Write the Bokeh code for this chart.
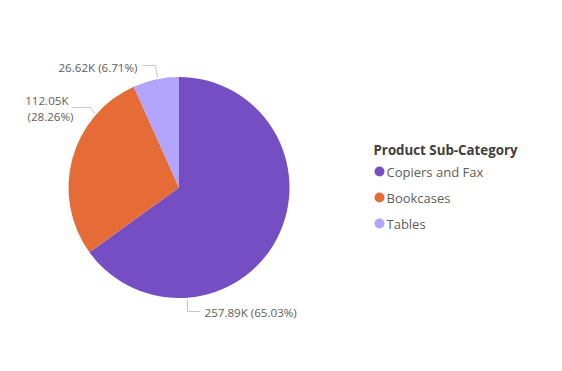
import numpy as np
from bokeh.plotting import figure
from bokeh.models import Range1d
from bokeh.core.properties import value
from bokeh.embed import file_html
from bokeh.resources import INLINE

categories = ["Copiers and Fax", "Bookcases", "Tables"]
values = [257.89, 112.05, 26.62]
value_labels = ["257.89K", "112.05K", "26.62K"]
colors = ["#744EC2", "#E66C37", "#B3A4FE"]
legend_title = "Product Sub-Category"

W, H = 546, 355
FONT = "Open Sans"
LABEL_COLOR = "#605E5C"
LINE_COLOR = "#C8C6C4"
LABEL_SIZE = "11.6px"

def Y(py):
    return H - py

def X(px):
    return px

p = figure(width=W, height=H, output_backend="svg", toolbar_location=None,
           x_range=Range1d(0, W), y_range=Range1d(0, H), min_border=0,
           outline_line_color=None)
p.axis.visible = False
p.grid.visible = False
p.background_fill_color = "white"
p.border_fill_color = "white"

vals = np.array(values, dtype=float)
frac = vals / vals.sum()
cum = np.concatenate([[0], np.cumsum(frac)])
start = np.pi / 2 - cum[1:] * 2 * np.pi
end = np.pi / 2 - cum[:-1] * 2 * np.pi

cx, cy, r = X(178.5), Y(187), 110.5
p.wedge(x=[cx] * 3, y=[cy] * 3, radius=r, radius_units="screen",
        start_angle=start, end_angle=end, direction="anticlock",
        fill_color=colors, line_color=None)

pct = [f"({f*100:.2f}%)" for f in frac]

# Copiers and Fax label
p.line([X(187), X(187), X(200)], [Y(299), Y(311), Y(311)], line_color=LINE_COLOR, line_width=1)
p.text([X(204)], [Y(312)], text=[f"{value_labels[0]} {pct[0]}"], text_font=value(FONT),
       text_font_size=LABEL_SIZE, text_color=LABEL_COLOR, text_baseline="middle", text_align="left")

# Bookcases label
p.line([X(72), X(90), X(94)], [Y(107), Y(107), Y(113)], line_color=LINE_COLOR, line_width=1)
p.text([X(68), X(73)], [Y(100), Y(116)], text=[value_labels[1], pct[1]], text_font=value(FONT),
       text_font_size=LABEL_SIZE, text_color=LABEL_COLOR, text_baseline="middle", text_align="right")

# Tables label
p.line([X(142), X(155), X(157)], [Y(65), Y(65), Y(77)], line_color=LINE_COLOR, line_width=1)
p.text([X(137)], [Y(67)], text=[f"{value_labels[2]} {pct[2]}"], text_font=value(FONT),
       text_font_size=LABEL_SIZE, text_color=LABEL_COLOR, text_baseline="middle", text_align="right")

# Legend
p.text([X(373)], [Y(149)], text=[legend_title], text_font=value(FONT), text_font_size="13.3px",
       text_font_style="bold", text_color="#404040", text_baseline="middle", text_align="left")
ly = [Y(171), Y(197), Y(223)]
p.scatter([X(379)] * 3, ly, size=10, marker="circle", fill_color=colors, line_color=None)
p.text([X(386)] * 3, ly, text=categories, text_font=value(FONT), text_font_size="13px",
       text_color=LABEL_COLOR, text_baseline="middle", text_align="left")

open("out.html", "w").write(file_html(p, INLINE))
